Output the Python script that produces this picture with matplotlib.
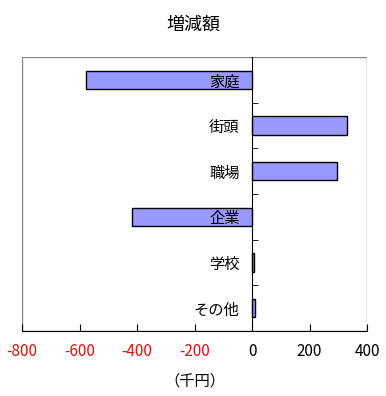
import matplotlib.pyplot as plt
import numpy as np
from matplotlib.patches import Rectangle

plt.rcParams['font.family'] = ['Noto Sans CJK JP', 'DejaVu Sans']

categories = ["家庭", "街頭", "職場", "企業", "学校", "その他"]
values = [-576, 330, 296, -417, 8, 10]
xticks = [-800, -600, -400, -200, 0, 200, 400]

fig = plt.figure(figsize=(3.86, 3.96), dpi=100)
ax = fig.add_axes([22 / 386, 1 - 331 / 396, 345 / 386, 274 / 396])

y = np.arange(len(categories))[::-1]
ax.barh(y, values, height=0.4, color='#9999ff', edgecolor='black', linewidth=1)

ax.set_xlim(-800, 400)
ax.set_ylim(-0.5, len(categories) - 0.5)

# frame: gray box, black bottom axis, vertical axis at zero
ax.add_patch(Rectangle((0, 0), 1, 1, transform=ax.transAxes, fill=False,
                       edgecolor='#888888', linewidth=1, zorder=0))
for s in ['top', 'right']:
    ax.spines[s].set_visible(False)
ax.spines['left'].set_position(('data', 0))
ax.spines['left'].set_color('black')
ax.spines['bottom'].set_color('black')

ax.set_yticks(y)
ax.set_yticklabels(categories, fontsize=11)
ax.set_yticks(np.arange(len(categories) - 1) + 0.5, minor=True)
ax.tick_params(axis='y', which='major', length=0, pad=9)
ax.tick_params(axis='y', which='minor', direction='in', length=4, color='black')

ax.set_xticks(xticks)
ax.set_xticklabels([str(v) if v >= 0 else '-' + str(-v) for v in xticks], fontsize=11)
ax.tick_params(axis='x', direction='in', length=5, pad=9)
for lab, v in zip(ax.get_xticklabels(), xticks):
    lab.set_color('#e01010' if v < 0 else 'black')

ax.set_xlabel("（千円）", fontsize=11, labelpad=9)
fig.text(0.5, 1 - 25 / 396, "増減額", ha='center', va='center', fontsize=13)

plt.savefig('out.png', dpi=100)
